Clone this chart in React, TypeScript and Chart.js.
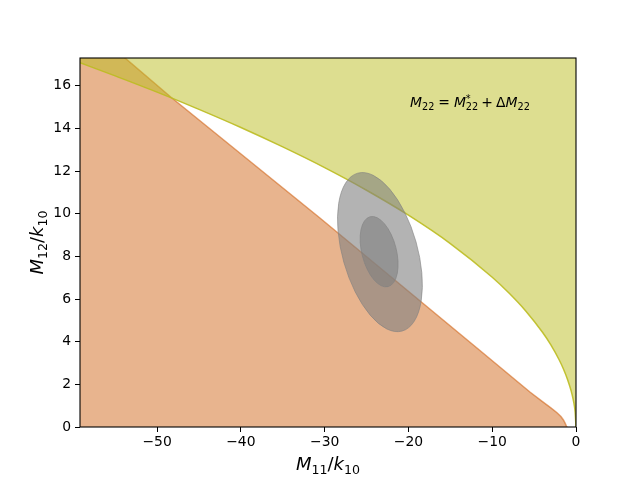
import React, { useEffect, useRef } from "react";
import { Chart, registerables } from "chart.js";

Chart.register(...registerables);

// ---- data ----
const X_MIN = -59.2;
const X_MAX = 0;
const Y_MIN = 0;
const Y_MAX = 17.3;

const xTicks = [-50, -40, -30, -20, -10, 0];
const yTicks = [0, 2, 4, 6, 8, 10, 12, 14, 16];

// orange (lower) region boundary
const orangeX = [-59.2, -48.3, -30.6, -11.5, -5.5, -4, -3, -2.3, -1.8, -1.5, -1.3, -1.15, -1.1];
const orangeY = [19.1, 15.45, 9.81, 3.6, 1.64, 1.19, 0.9, 0.68, 0.49, 0.33, 0.18, 0.05, 0];

// yellow (upper) region boundary
const yellowX = [-59.2, -55, -50, -45, -40, -35, -30, -25, -20, -15, -10, -8, -6, -4, -3, -2, -1.5, -1, -0.6, -0.3, -0.1, 0];
const yellowY = [17.08, 16.46, 15.7, 14.89, 14.04, 13.13, 12.16, 11.1, 9.93, 8.6, 7.02, 6.28, 5.44, 4.44, 3.85, 3.14, 2.72, 2.22, 1.72, 1.22, 0.7, 0];

// ellipses: centre and two conjugate semi-axis vectors (data units)
const ellipseCx = [-23.4, -23.5];
const ellipseCy = [8.2, 8.22];
const ellipseA = [[2.66, -3.7], [1.07, -1.64]];
const ellipseB = [[4.31, 0.479], [2.0, 0.2]];

// annotation anchor (data units)
const noteX = -19.8;
const noteY = 15;

type Seg = { t?: string; it?: boolean; sub?: string; sup?: string; gap?: number };

const FONT = '"DejaVu Sans"';

const xLabel: Seg[] = [{ t: "M", it: true, sub: "11" }, { t: "/" }, { t: "k", it: true, sub: "10" }];
const yLabel: Seg[] = [{ t: "M", it: true, sub: "12" }, { t: "/" }, { t: "k", it: true, sub: "10" }];
const noteLabel: Seg[] = [
  { t: "M", it: true, sub: "22" },
  { gap: 0.28, t: "=" },
  { gap: 0.28, t: "M", it: true, sub: "22", sup: "*" },
  { gap: 0.22, t: "+" },
  { gap: 0.22, t: "\u0394" },
  { t: "M", it: true, sub: "22" },
];

function mathText(ctx: CanvasRenderingContext2D, segs: Seg[], size: number, x: number, y: number, draw: boolean) {
  let cx = x;
  for (const s of segs) {
    if (s.gap) cx += s.gap * size;
    if (s.t) {
      ctx.font = `${s.it ? "italic " : ""}${size}px ${FONT}`;
      if (draw) ctx.fillText(s.t, cx, y);
      cx += ctx.measureText(s.t).width;
    }
    if (s.sub || s.sup) {
      const ss = size * 0.7;
      ctx.font = `${ss}px ${FONT}`;
      let w = 0;
      if (s.sup) {
        if (draw) ctx.fillText(s.sup, cx, y - size * 0.38);
        w = Math.max(w, ctx.measureText(s.sup).width);
      }
      if (s.sub) {
        if (draw) ctx.fillText(s.sub, cx, y + size * 0.2);
        w = Math.max(w, ctx.measureText(s.sub).width);
      }
      cx += w;
    }
  }
  return cx - x;
}

const decorPlugin = {
  id: "decor",
  afterDatasetsDraw(chart: any) {
    const ctx: CanvasRenderingContext2D = chart.ctx;
    const xs = chart.scales.x;
    const ys = chart.scales.y;
    const area = chart.chartArea;
    ctx.save();
    ctx.beginPath();
    ctx.rect(area.left, area.top, area.right - area.left, area.bottom - area.top);
    ctx.clip();
    for (let i = 0; i < ellipseCx.length; i++) {
      const cxp = xs.getPixelForValue(ellipseCx[i]);
      const cyp = ys.getPixelForValue(ellipseCy[i]);
      const ax = xs.getPixelForValue(ellipseCx[i] + ellipseA[i][0]) - cxp;
      const ay = ys.getPixelForValue(ellipseCy[i] + ellipseA[i][1]) - cyp;
      const bx = xs.getPixelForValue(ellipseCx[i] + ellipseB[i][0]) - cxp;
      const by = ys.getPixelForValue(ellipseCy[i] + ellipseB[i][1]) - cyp;
      ctx.beginPath();
      ctx.save();
      ctx.transform(ax, ay, bx, by, cxp, cyp);
      ctx.arc(0, 0, 1, 0, Math.PI * 2);
      ctx.restore();
      ctx.fillStyle = "rgba(128,128,128,0.6)";
      ctx.fill();
      ctx.lineWidth = 1;
      ctx.strokeStyle = "rgba(128,128,128,0.6)";
      ctx.stroke();
    }
    ctx.restore();

    // annotation
    ctx.save();
    ctx.fillStyle = "#000";
    ctx.textBaseline = "alphabetic";
    ctx.textAlign = "left";
    mathText(ctx, noteLabel, 13.9, xs.getPixelForValue(noteX), ys.getPixelForValue(noteY), true);
    ctx.restore();
  },
  afterDraw(chart: any) {
    const ctx: CanvasRenderingContext2D = chart.ctx;
    const area = chart.chartArea;
    ctx.save();
    ctx.strokeStyle = "#000";
    ctx.lineWidth = 1.1;
    ctx.strokeRect(area.left, area.top, area.right - area.left, area.bottom - area.top);

    ctx.fillStyle = "#000";
    ctx.textBaseline = "alphabetic";
    ctx.textAlign = "left";
    const size = 18;
    // x label
    const wx = mathText(ctx, xLabel, size, 0, 0, false);
    mathText(ctx, xLabel, size, (area.left + area.right) / 2 - wx / 2, 470, true);
    // y label
    const wy = mathText(ctx, yLabel, size, 0, 0, false);
    ctx.translate(43, (area.top + area.bottom) / 2);
    ctx.rotate(-Math.PI / 2);
    mathText(ctx, yLabel, size, -wy / 2, 0, true);
    ctx.restore();
  },
};

const fmt = (v: number) => (v < 0 ? "\u2212" + String(-v) : String(v));

export default function App() {
  const ref = useRef<HTMLCanvasElement | null>(null);
  useEffect(() => {
    if (!ref.current) return;
    const chart = new Chart(ref.current, {
      type: "line",
      data: {
        datasets: [
          {
            label: "upper",
            data: yellowX.map((x, i) => ({ x, y: yellowY[i] })),
            borderColor: "rgba(188,189,34,0.9)",
            backgroundColor: "rgba(188,189,34,0.5)",
            borderWidth: 1.5,
            pointRadius: 0,
            cubicInterpolationMode: "monotone",
            fill: "end",
            clip: 0,
          },
          {
            label: "lower",
            data: orangeX.map((x, i) => ({ x, y: orangeY[i] })),
            borderColor: "rgba(210,105,30,0.6)",
            backgroundColor: "rgba(210,105,30,0.5)",
            borderWidth: 1.5,
            pointRadius: 0,
            tension: 0,
            fill: "origin",
            clip: 0,
          },
        ],
      },
      options: {
        responsive: false,
        animation: false,
        devicePixelRatio: 1,
        layout: { padding: { left: 0, top: 58, right: 64, bottom: 0 } },
        plugins: { legend: { display: false }, tooltip: { enabled: false } },
        scales: {
          x: {
            type: "linear",
            min: X_MIN,
            max: X_MAX,
            afterBuildTicks: (s: any) => {
              s.ticks = xTicks.map((v) => ({ value: v }));
            },
            afterFit: (s: any) => {
              s.height = 53;
            },
            border: { display: false },
            grid: { display: true, drawOnChartArea: false, drawTicks: true, tickLength: 5, color: "#000", lineWidth: 1 },
            ticks: {
              color: "#000",
              padding: 2,
              maxRotation: 0,
              font: { family: "DejaVu Sans", size: 13.9 },
              callback: (v: any) => fmt(Number(v)),
            },
          },
          y: {
            type: "linear",
            min: Y_MIN,
            max: Y_MAX,
            afterBuildTicks: (s: any) => {
              s.ticks = yTicks.map((v) => ({ value: v }));
            },
            afterFit: (s: any) => {
              s.width = 80;
            },
            border: { display: false },
            grid: { display: true, drawOnChartArea: false, drawTicks: true, tickLength: 5, color: "#000", lineWidth: 1 },
            ticks: {
              color: "#000",
              padding: 4,
              font: { family: "DejaVu Sans", size: 13.9 },
              callback: (v: any) => fmt(Number(v)),
            },
          },
        },
      },
      plugins: [decorPlugin],
    });
    return () => chart.destroy();
  }, []);
  return (
    <div style={{ position: "fixed", left: 0, top: 0, width: 640, height: 480, background: "#fff" }}>
      <canvas ref={ref} width={640} height={480} />
    </div>
  );
}
